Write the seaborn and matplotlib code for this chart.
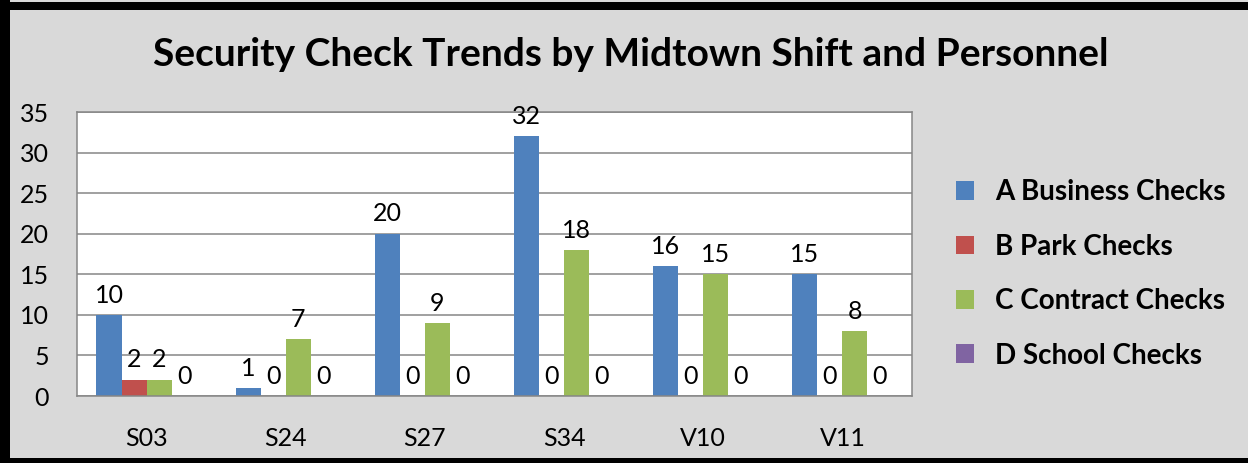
import numpy as np
import pandas as pd
import seaborn as sns
import matplotlib.pyplot as plt
from matplotlib.patches import Rectangle, Patch

# chart data
shifts = ["S03", "S24", "S27", "S34", "V10", "V11"]
series = ["A Business Checks", "B Park Checks", "C Contract Checks", "D School Checks"]
business = [10, 1, 20, 32, 16, 15]
park = [2, 0, 0, 0, 0, 0]
contract = [2, 7, 9, 18, 15, 8]
school = [0, 0, 0, 0, 0, 0]
colors = ["#4f81bd", "#c0504d", "#9bbb59", "#8064a2"]

df = pd.DataFrame({
    "Shift": shifts * 4,
    "Series": np.repeat(series, len(shifts)),
    "Checks": business + park + contract + school,
})

sns.set_style("white")
plt.rcParams["font.family"] = ["Lato", "DejaVu Sans"]
plt.rcParams["text.color"] = "black"
plt.rcParams["xtick.color"] = "black"
plt.rcParams["ytick.color"] = "black"

W, H = 1248, 463
fig = plt.figure(figsize=(W / 100, H / 100), dpi=100)
fig.patch.set_facecolor("#d9d9d9")

# plot area in pixel coordinates of the reference
left, right, top, bottom = 77, 912, 112, 396
ax = fig.add_axes([left / W, 1 - bottom / H, (right - left) / W, (bottom - top) / H])

sns.barplot(data=df, x="Shift", y="Checks", hue="Series", palette=colors,
            width=0.72, saturation=1, linewidth=0, ax=ax, legend=False)

for cont in ax.containers:
    labels = ax.bar_label(cont, padding=6, fontsize=18, color="black")
    for t in labels:
        t.set_clip_on(False)

ax.set_ylim(0, 35)
ax.set_yticks(range(0, 36, 5))
ax.set_xlim(-0.5, len(shifts) - 0.5)
ax.set_xlabel("")
ax.set_ylabel("")
ax.grid(axis="y", color="#868686", linewidth=1.1)
ax.set_axisbelow(True)
for s in ax.spines.values():
    s.set_color("#868686")
    s.set_linewidth(1.1)
ax.tick_params(axis="y", length=0, pad=20, labelsize=18)
ax.tick_params(axis="x", length=0, pad=22, labelsize=18)

fig.text(631 / W, 1 - 54 / H, "Security Check Trends by Midtown Shift and Personnel",
         ha="center", va="center", fontsize=28, fontweight="bold")

handles = [Patch(facecolor=c, edgecolor="none") for c in colors]
leg = fig.legend(handles, series, loc="center left",
                 bbox_to_anchor=(931 / W, 1 - 274 / H), frameon=False,
                 prop={"weight": "bold", "size": 20}, handlelength=0.65,
                 handleheight=0.65, handletextpad=0.75, labelspacing=1.02)

# black frame around the chart
fig.patches.append(Rectangle((0, 0), 10 / W, 1, transform=fig.transFigure,
                             facecolor="black", edgecolor="none"))
fig.patches.append(Rectangle((0, 1 - 10 / H), 1, 8 / H, transform=fig.transFigure,
                             facecolor="black", edgecolor="none"))
fig.patches.append(Rectangle((0, 0), 1, 5 / H, transform=fig.transFigure,
                             facecolor="black", edgecolor="none"))

fig.savefig("out.png", dpi=100, facecolor=fig.get_facecolor())
